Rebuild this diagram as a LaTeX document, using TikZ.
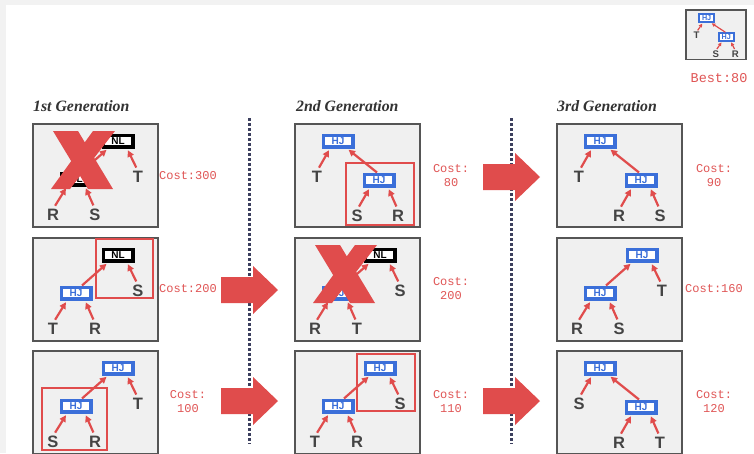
\documentclass[tikz,border=0pt]{standalone}
\usepackage{fontspec}
\setmainfont{Liberation Serif}
\setsansfont{Liberation Sans}
\newfontfamily\costfont{Liberation Mono}
\usetikzlibrary{arrows.meta}
\definecolor{myred}{HTML}{E04C4C}
\definecolor{myblue}{HTML}{3B6FD9}
\definecolor{panelfill}{HTML}{F0F0F0}
\definecolor{panelline}{HTML}{555555}
\definecolor{leafgray}{HTML}{444444}
\definecolor{dotcol}{HTML}{3C3F5E}
\definecolor{titlecol}{HTML}{333333}
\definecolor{costred}{HTML}{E05555}
\definecolor{pagegray}{HTML}{F2F2F2}

\tikzset{
 panelbox/.style={draw=panelline, fill=panelfill, line width=2pt, minimum width=125pt, minimum height=103pt, inner sep=0pt},
 HJbox/.style={draw=myblue, fill=white, line width=3.5pt, minimum width=29.5pt, minimum height=11.5pt, inner sep=0pt, text=myblue, font=\sffamily\bfseries\fontsize{10}{10}\selectfont},
 NLbox/.style={draw=black, fill=white, line width=3.5pt, minimum width=29.5pt, minimum height=11.5pt, inner sep=0pt, text=black, font=\sffamily\bfseries\fontsize{10}{10}\selectfont},
 leaf/.style={inner sep=0pt, text depth=0pt, text=leafgray, font=\sffamily\bfseries\fontsize{16.5}{16.5}\selectfont},
 edge/.style={draw=myred, line width=2.2pt, -{Triangle[length=6.5pt,width=6.5pt]}, shorten <=4pt, shorten >=2pt},
 edgetwo/.style={edge, shorten <=0pt},
 hl/.style={draw=myred, line width=2pt},
 cost/.style={text=costred, font=\costfont\fontsize{12}{14}\selectfont, align=center, inner sep=0pt},
 title/.style={text=titlecol, font=\rmfamily\bfseries\itshape\fontsize{15.8}{16}\selectfont, inner sep=0pt},
 bigarrow/.style={fill=myred, draw=none},
 xmark/.style={fill=myred, draw=none},
 divider/.style={draw=dotcol, line width=3pt, dash pattern=on 3pt off 2pt},
}

% panel: name, x0, y0 (top-left)
\newcommand{\panel}[3]{\node[panelbox] (#1) at (#2+62.5,#3+51.5) {};}

% left-deep tree: prefix, x0, y0, top kind, lower kind, top leaf, lower-left leaf, lower-right leaf
\newcommand{\treeL}[8]{%
 \node[#4box] (#1t) at (#2+85,#3+17) {#4};
 \node[leaf] (#1a) at (#2+105,#3+53) {#6};
 \node[#5box] (#1l) at (#2+43,#3+55) {#5};
 \node[leaf] (#1b) at (#2+20,#3+91) {#7};
 \node[leaf] (#1c) at (#2+62,#3+91) {#8};
 \draw[edgetwo] ([xshift=6pt]#1l.north) -- ([xshift=-10pt]#1t.south);
 \draw[edge] (#1a.north) -- ([xshift=9pt]#1t.south);
 \draw[edge] (#1b.north) -- ([xshift=-9pt]#1l.south);
 \draw[edge] (#1c.north) -- ([xshift=9pt]#1l.south);
}

% right-deep tree: prefix, x0, y0, top kind, lower kind, top leaf, lower-left leaf, lower-right leaf
\newcommand{\treeR}[8]{%
 \node[#4box] (#1t) at (#2+43,#3+17) {#4};
 \node[leaf] (#1a) at (#2+22,#3+53) {#6};
 \node[#5box] (#1l) at (#2+84,#3+56) {#5};
 \node[leaf] (#1b) at (#2+62,#3+92) {#7};
 \node[leaf] (#1c) at (#2+103,#3+92) {#8};
 \draw[edgetwo] ([xshift=-2pt]#1l.north) -- ([xshift=9pt]#1t.south);
 \draw[edge] (#1a.north) -- ([xshift=-8pt]#1t.south);
 \draw[edge] (#1b.north) -- ([xshift=-9pt]#1l.south);
 \draw[edge] (#1c.north) -- ([xshift=9pt]#1l.south);
}

\newcommand{\bigarr}[2]{\fill[bigarrow] (#1,#2-13) -- (#1+32,#2-13) -- (#1+32,#2-24) -- (#1+57,#2) -- (#1+32,#2+24) -- (#1+32,#2+13) -- (#1,#2+13) -- cycle;}

\newcommand{\bigx}[2]{\fill[xmark, shift={(#1,#2)}] (2,0) -- (27,0) -- (33.8,11.3) -- (42,0) -- (64,0) -- (43.2,26.8) -- (62,58) -- (37,58) -- (29.1,45) -- (19,58) -- (0,58) -- (20.2,30.1) -- cycle;}

\begin{document}
\begin{tikzpicture}[x=1pt,y=-1pt]
\useasboundingbox (0,0) rectangle (754,453);
\fill[pagegray] (0,0) rectangle (754,453);
\fill[white] (6,5) rectangle (754,453);

% titles
\node[title, anchor=base west] (g1) at (33,111) {1st Generation};
\node[title, anchor=base west] (g2) at (296,111) {2nd Generation};
\node[title, anchor=base west] (g3) at (557,111) {3rd Generation};

% dividers
\draw[divider] (249,118) -- (249,444);
\draw[divider] (511,118) -- (511,444);

% ---- column 1 ----
\panel{p11}{33}{124}
\treeL{a}{33}{124}{NL}{NL}{T}{R}{S}
\bigx{51}{131}
\node[cost] (c11) at (188,176) {Cost:300};

\panel{p12}{33}{238}
\draw[hl] (96,239) rectangle (153,298);
\treeL{b}{33}{238}{NL}{HJ}{S}{T}{R}
\node[cost] (c12) at (188,289) {Cost:200};

\panel{p13}{33}{351}
\draw[hl] (42,388) rectangle (107,450);
\treeL{c}{33}{351}{HJ}{HJ}{T}{S}{R}
\node[cost] (c13) at (188,402) {Cost:\\100};

% ---- column 2 ----
\panel{p21}{295}{124}
\draw[hl] (346,163) rectangle (414,225);
\treeR{d}{295}{124}{HJ}{HJ}{T}{S}{R}
\node[cost] (c21) at (451,176) {Cost:\\80};

\panel{p22}{295}{238}
\treeL{e}{295}{238}{NL}{HJ}{S}{R}{T}
\bigx{313}{245}
\node[cost] (c22) at (451,289) {Cost:\\200};

\panel{p23}{295}{351}
\draw[hl] (357,354) rectangle (415,411);
\treeL{f}{295}{351}{HJ}{HJ}{S}{T}{R}
\node[cost] (c23) at (451,402) {Cost:\\110};

% ---- column 3 ----
\panel{p31}{557}{124}
\treeR{g}{557}{124}{HJ}{HJ}{T}{R}{S}
\node[cost] (c31) at (714,176) {Cost:\\90};

\panel{p32}{557}{238}
\treeL{h}{557}{238}{HJ}{HJ}{T}{R}{S}
\node[cost] (c32) at (714,289) {Cost:160};

\panel{p33}{557}{351}
\treeR{i}{557}{351}{HJ}{HJ}{S}{R}{T}
\node[cost] (c33) at (714,402) {Cost:\\120};

% big arrows
\bigarr{221}{290}
\bigarr{221}{401}
\bigarr{483}{177}
\bigarr{483}{401}

% best thumbnail
\begin{scope}[shift={(686,10)}, scale=0.48, transform shape,
  panelbox/.append style={line width=1.3pt},
  HJbox/.append style={line width=2.4pt, minimum width=31pt, minimum height=17pt, font=\sffamily\bfseries\fontsize{15}{15}\selectfont},
  leaf/.append style={font=\sffamily\bfseries\fontsize{20}{20}\selectfont},
  edge/.append style={line width=1.2pt, -{Triangle[length=3.5pt,width=3.5pt]}, shorten <=2pt, shorten >=1pt}]
\panel{pb}{0}{0}
\treeR{j}{0}{0}{HJ}{HJ}{T}{S}{R}
\end{scope}
\node[cost, font=\costfont\fontsize{13.5}{16}\selectfont] (best) at (719,78) {Best:80};
\end{tikzpicture}
\end{document}
